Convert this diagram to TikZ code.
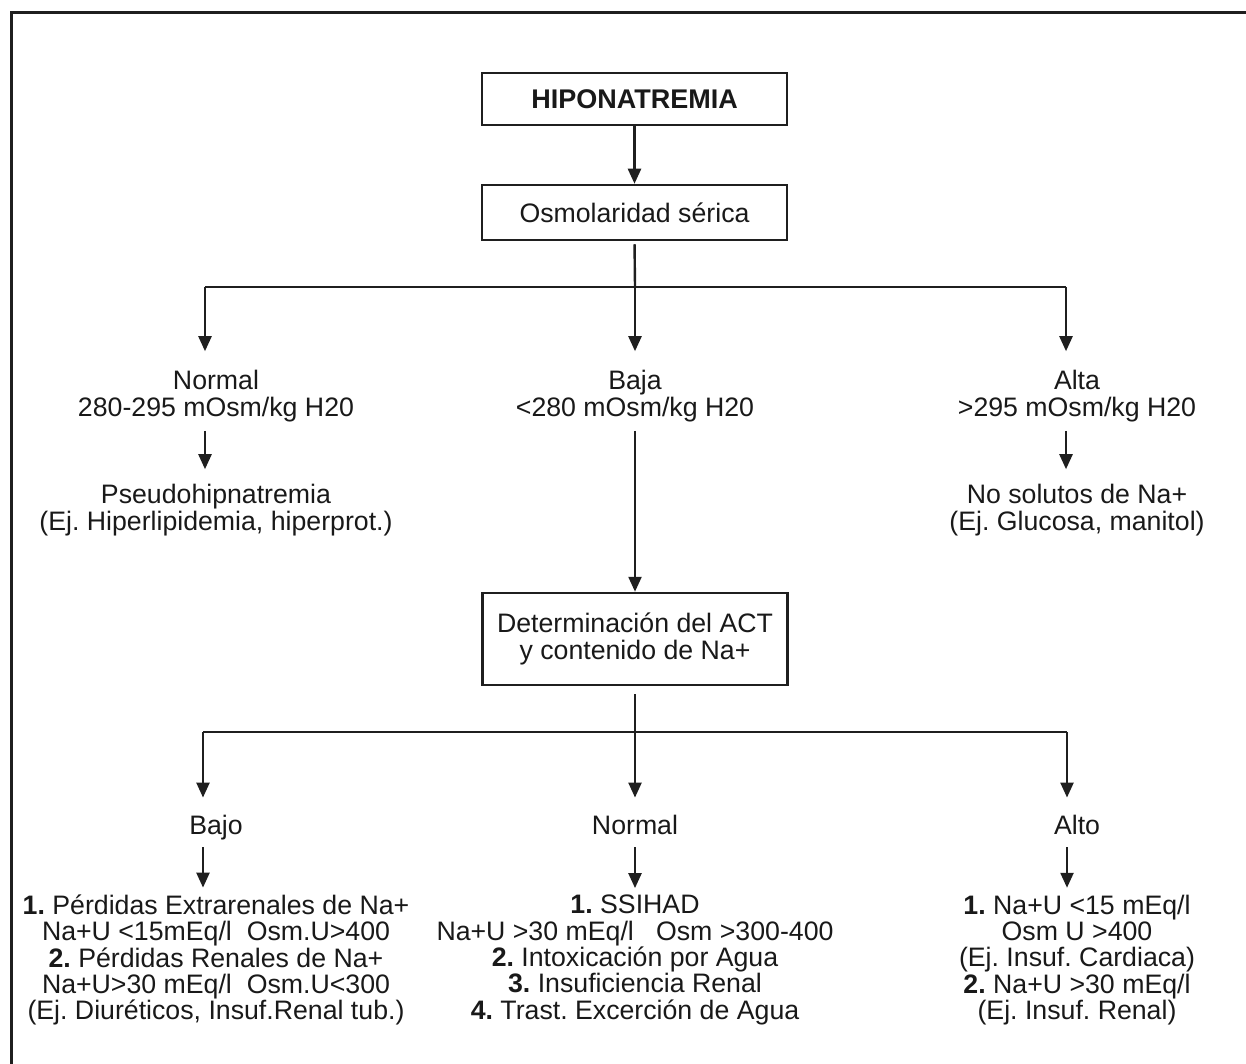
\documentclass[tikz,border=0pt]{standalone}
\usepackage{fontspec}
\setmainfont{Liberation Sans}
\frenchspacing
\usetikzlibrary{arrows.meta}
\begin{document}
\begin{tikzpicture}[x=1pt,y=-1pt,
  every node/.style={font=\fontsize{26.7}{26.3}\selectfont, align=center, inner sep=0pt, text=black!90},
  single/.style={text height=19pt, text depth=5.5pt},
  boxnode/.style={draw=black!88, line width=2.5pt, minimum width=305pt, inner sep=0pt},
  conn/.style={draw=black!88, line width=2.4pt},
  arr/.style={conn, -{Triangle[length=15pt,width=13pt]}}]
\useasboundingbox (0,0) rectangle (1246,1064);
\draw[draw=black!88, line width=3pt] (11.5,13) rectangle (1270,1090);

% boxes
\node[boxnode, minimum height=52pt] (hipo) at (634.5,99) {\fontsize{27}{27}\selectfont\textbf{HIPONATREMIA}};
\node[boxnode, minimum height=55pt] (osm) at (634.5,212.5) {Osmolaridad sérica};
\node[boxnode, minimum height=92pt] (act) at (635,639) {Determinación del ACT\\y contenido de Na+};

% first level
\node (normal) at (216,396) {Normal\\280-295 mOsm/kg H20};
\node (baja) at (635,396) {Baja\\<280 mOsm/kg H20};
\node (alta) at (1077,396) {Alta\\>295 mOsm/kg H20};
\node (pseudo) at (216,510) {Pseudohipnatremia\\(Ej. Hiperlipidemia, hiperprot.)};
\node (nosol) at (1077,510) {No solutos de Na+\\(Ej. Glucosa, manitol)};

% second level
\node[single] (bajo) at (216,828) {Bajo};
\node[single] (norm2) at (635,828) {Normal};
\node[single] (alto) at (1077,828) {Alto};
\node (lbajo) at (216,960) {\textbf{1.} Pérdidas Extrarenales de Na+\\Na+U <15mEq/l\ \ Osm.U>400\\\textbf{2.} Pérdidas Renales de Na+\\Na+U>30 mEq/l\ \ Osm.U<300\\(Ej. Diuréticos, Insuf.Renal tub.)};
\node (lnorm) at (635,960) {\textbf{1.} SSIHAD\\Na+U >30 mEq/l\ \ \ Osm >300-400\\\textbf{2.} Intoxicación por Agua\\\textbf{3.} Insuficiencia Renal\\\textbf{4.} Trast. Excerción de Agua};
\node (lalto) at (1077,960) {\textbf{1.} Na+U <15 mEq/l\\Osm U >400\\(Ej. Insuf. Cardiaca)\\\textbf{2.} Na+U >30 mEq/l\\(Ej. Insuf. Renal)};

% branching points
\coordinate (h1) at (635,287);
\coordinate (h1l) at (205,287);
\coordinate (h1r) at (1066,287);
\coordinate (h2) at (635,732);
\coordinate (h2l) at (203,732);
\coordinate (h2r) at (1067,732);

% connectors
\draw[arr] (hipo.south) -- (osm.north);
\draw[conn, shorten <=3pt] (osm.south) -- (h1);
\draw[conn] (h1l) -- (h1r);
\draw[arr, shorten >=19pt] (h1l) -- (h1l |- normal.north);
\draw[arr, shorten >=19pt] (h1) -- (baja.north);
\draw[arr, shorten >=19pt] (h1r) -- (h1r |- alta.north);
\draw[arr, shorten <=9pt, shorten >=15pt] (normal.south -| h1l) -- (pseudo.north -| h1l);
\draw[arr, shorten <=9pt, shorten >=15pt] (alta.south -| h1r) -- (nosol.north -| h1r);
\draw[arr, shorten <=9pt] (baja.south) -- (act.north);
\draw[conn, shorten <=8pt] (act.south) -- (h2);
\draw[conn] (h2l) -- (h2r);
\draw[arr, shorten >=18pt] (h2l) -- (h2l |- bajo.north);
\draw[arr, shorten >=18pt] (h2) -- (norm2.north);
\draw[arr, shorten >=18pt] (h2r) -- (h2r |- alto.north);
\draw[arr, shorten <=7pt, shorten >=7pt] (bajo.south -| h2l) -- (lbajo.north -| h2l);
\draw[arr, shorten <=7pt, shorten >=7pt] (norm2.south) -- (lnorm.north);
\draw[arr, shorten <=7pt, shorten >=7pt] (alto.south -| h2r) -- (lalto.north -| h2r);
\end{tikzpicture}
\end{document}
